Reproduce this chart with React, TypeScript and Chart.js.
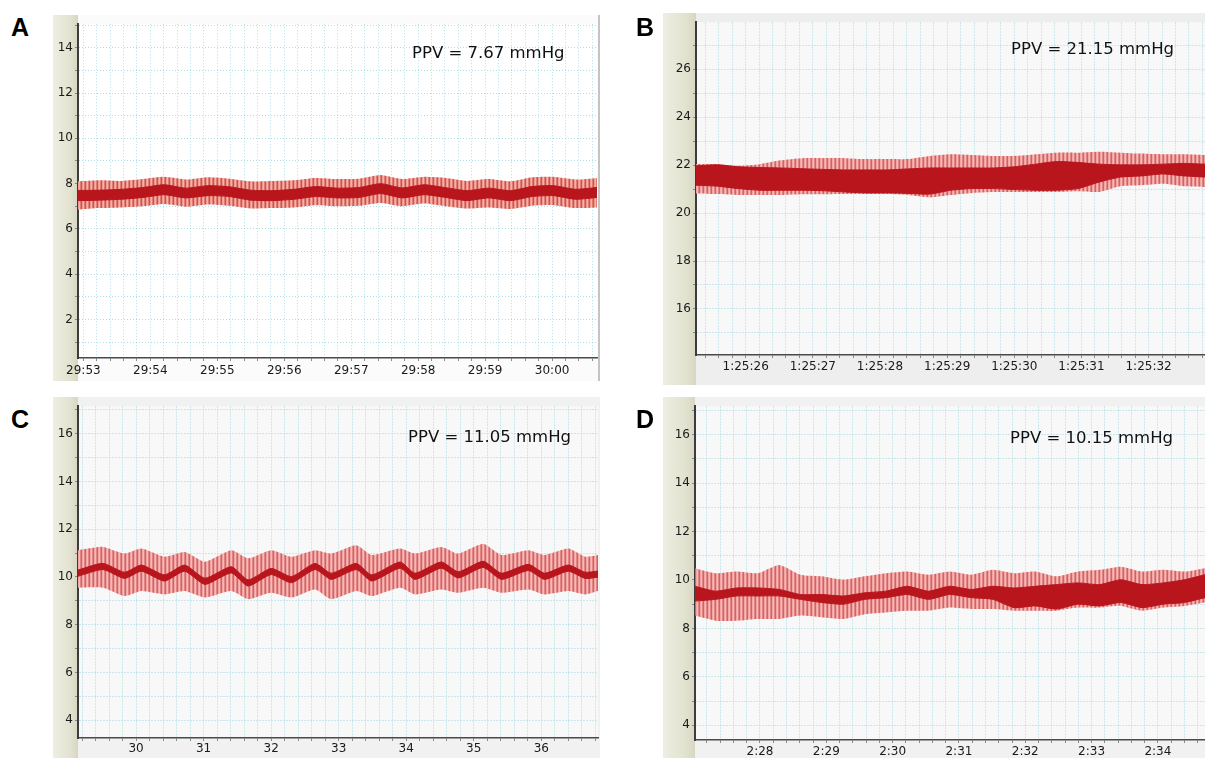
import React, { useEffect, useRef } from "react";
import { Chart, registerables } from "chart.js";
Chart.register(...registerables);

// ---------------- Panel A ----------------
const timeA = [-0.08, 0.24, 0.57, 0.89, 1.21, 1.53, 1.86, 2.18, 2.5, 2.83, 3.15, 3.47, 3.79, 4.12, 4.44, 4.76, 5.09, 5.41, 5.73, 6.05, 6.38, 6.7, 7.02, 7.35, 7.67];
const outerHighA = [8.1, 8.15, 8.12, 8.2, 8.3, 8.18, 8.28, 8.22, 8.1, 8.12, 8.15, 8.25, 8.2, 8.22, 8.38, 8.2, 8.3, 8.25, 8.12, 8.2, 8.1, 8.28, 8.3, 8.18, 8.25];
const innerHighA = [7.7, 7.71, 7.75, 7.83, 7.95, 7.8, 7.91, 7.86, 7.71, 7.69, 7.75, 7.87, 7.8, 7.83, 8.0, 7.81, 7.95, 7.82, 7.69, 7.8, 7.69, 7.87, 7.91, 7.75, 7.83];
const innerLowA = [7.25, 7.27, 7.31, 7.39, 7.51, 7.37, 7.47, 7.43, 7.27, 7.25, 7.31, 7.43, 7.37, 7.39, 7.56, 7.37, 7.51, 7.39, 7.25, 7.37, 7.25, 7.43, 7.47, 7.31, 7.39];
const outerLowA = [6.85, 6.92, 6.95, 7.0, 7.1, 6.98, 7.08, 7.02, 6.9, 6.92, 6.95, 7.05, 7.0, 7.02, 7.15, 7.0, 7.12, 7.0, 6.9, 6.95, 6.88, 7.02, 7.05, 6.92, 6.95];
const yLabelValuesA = [2, 4, 6, 8, 10, 12, 14];
const xLabelValuesA = [0, 1, 2, 3, 4, 5, 6, 7];
const xLabelsA = ["29:53", "29:54", "29:55", "29:56", "29:57", "29:58", "29:59", "30:00"];
const ppvA = "PPV = 7.67 mmHg";

// ---------------- Panel B ----------------
const timeB = [-0.74, -0.42, -0.11, 0.21, 0.52, 0.84, 1.16, 1.47, 1.79, 2.1, 2.42, 2.74, 3.05, 3.37, 3.68, 4.0, 4.32, 4.63, 4.95, 5.26, 5.58, 5.9, 6.21, 6.53, 6.84];
const outerHighB = [22.04, 22.04, 21.97, 22.04, 22.2, 22.29, 22.29, 22.29, 22.25, 22.25, 22.25, 22.38, 22.45, 22.42, 22.38, 22.38, 22.45, 22.52, 22.52, 22.56, 22.52, 22.48, 22.45, 22.45, 22.42];
const innerHighB = [21.97, 22.01, 21.93, 21.9, 21.88, 21.85, 21.82, 21.8, 21.8, 21.8, 21.84, 21.88, 21.88, 21.88, 21.88, 21.93, 22.04, 22.15, 22.11, 22.04, 22.01, 22.01, 22.04, 22.07, 22.04];
const innerLowB = [21.16, 21.12, 21.02, 20.95, 20.95, 20.95, 20.93, 20.88, 20.84, 20.84, 20.82, 20.79, 20.95, 21.02, 21.02, 20.98, 20.95, 20.95, 21.02, 21.29, 21.5, 21.55, 21.63, 21.55, 21.5];
const outerLowB = [20.82, 20.79, 20.75, 20.75, 20.75, 20.78, 20.78, 20.79, 20.79, 20.79, 20.75, 20.65, 20.75, 20.84, 20.88, 20.88, 20.88, 20.88, 20.91, 20.88, 21.12, 21.16, 21.22, 21.12, 21.09];
const yLabelValuesB = [16, 18, 20, 22, 24, 26];
const xLabelValuesB = [0, 1, 2, 3, 4, 5, 6];
const xLabelsB = ["1:25:26", "1:25:27", "1:25:28", "1:25:29", "1:25:30", "1:25:31", "1:25:32"];
const ppvB = "PPV = 21.15 mmHg";

// ---------------- Panel C ----------------
const timeC = [29.14, 29.51, 29.83, 30.08, 30.42, 30.72, 31.02, 31.41, 31.66, 32.0, 32.3, 32.65, 32.89, 33.26, 33.49, 33.91, 34.13, 34.52, 34.77, 35.14, 35.41, 35.81, 36.05, 36.4, 36.65, 36.84];
const outerHighC = [11.12, 11.26, 10.98, 11.19, 10.85, 11.05, 10.64, 11.12, 10.78, 11.12, 10.85, 11.12, 10.98, 11.33, 10.92, 11.19, 10.98, 11.26, 10.98, 11.39, 10.92, 11.12, 10.92, 11.19, 10.85, 10.92];
const innerHighC = [10.29, 10.57, 10.2, 10.5, 10.09, 10.5, 9.95, 10.43, 9.88, 10.36, 10.02, 10.57, 10.16, 10.57, 10.09, 10.63, 10.16, 10.63, 10.22, 10.66, 10.16, 10.53, 10.16, 10.5, 10.2, 10.25];
const innerLowC = [10.03, 10.31, 9.94, 10.24, 9.83, 10.24, 9.69, 10.17, 9.62, 10.1, 9.76, 10.31, 9.9, 10.31, 9.83, 10.37, 9.9, 10.37, 9.96, 10.4, 9.9, 10.27, 9.9, 10.24, 9.94, 9.99];
const outerLowC = [9.55, 9.55, 9.2, 9.41, 9.27, 9.41, 9.14, 9.41, 9.07, 9.34, 9.14, 9.48, 9.07, 9.41, 9.2, 9.55, 9.27, 9.48, 9.34, 9.55, 9.34, 9.48, 9.27, 9.41, 9.27, 9.41];
const yLabelValuesC = [4, 6, 8, 10, 12, 14, 16];
const xLabelValuesC = [30, 31, 32, 33, 34, 35, 36];
const xLabelsC = ["30", "31", "32", "33", "34", "35", "36"];
const ppvC = "PPV = 11.05 mmHg";

// ---------------- Panel D ----------------
const timeD = [-0.98, -0.67, -0.35, -0.03, 0.29, 0.61, 0.93, 1.26, 1.58, 1.9, 2.22, 2.54, 2.86, 3.19, 3.51, 3.83, 4.15, 4.47, 4.79, 5.12, 5.44, 5.76, 6.08, 6.4, 6.71];
const outerHighD = [10.49, 10.28, 10.35, 10.28, 10.62, 10.22, 10.15, 10.01, 10.15, 10.28, 10.35, 10.22, 10.35, 10.22, 10.42, 10.28, 10.35, 10.15, 10.35, 10.42, 10.55, 10.35, 10.42, 10.35, 10.49];
const innerHighD = [9.74, 9.54, 9.67, 9.67, 9.61, 9.4, 9.4, 9.34, 9.47, 9.54, 9.74, 9.54, 9.74, 9.61, 9.74, 9.67, 9.74, 9.81, 9.88, 9.81, 10.01, 9.81, 9.88, 10.01, 10.22];
const innerLowD = [9.13, 9.2, 9.34, 9.34, 9.34, 9.2, 9.07, 9.0, 9.2, 9.27, 9.4, 9.2, 9.4, 9.27, 9.2, 8.86, 8.93, 8.8, 9.0, 8.93, 9.07, 8.86, 9.0, 9.07, 9.27];
const outerLowD = [8.53, 8.32, 8.32, 8.39, 8.39, 8.53, 8.46, 8.39, 8.59, 8.66, 8.73, 8.73, 8.86, 8.8, 8.8, 8.73, 8.73, 8.73, 8.86, 8.86, 8.93, 8.73, 8.86, 8.93, 9.07];
const yLabelValuesD = [4, 6, 8, 10, 12, 14, 16];
const xLabelValuesD = [0, 1, 2, 3, 4, 5, 6];
const xLabelsD = ["2:28", "2:29", "2:30", "2:31", "2:32", "2:33", "2:34"];
const ppvD = "PPV = 10.15 mmHg";

type Panel = {
  letter: string;
  ppv: string;
  times: number[];
  oh: number[];
  ih: number[];
  il: number[];
  ol: number[];
  yLabelValues: number[];
  xLabelValues: number[];
  xLabels: string[];
  xMin: number;
  xMax: number;
  yMin: number;
  yMax: number;
  box: { left: number; top: number; width: number; height: number };
  yAxisW: number;
  xAxisH: number;
  padTop: number;
  padRight: number;
  xPad: number;
  plotBg: string;
  outerBg: string;
  rightBorder: boolean;
  stripes: string[];
  gridDash: number[];
  gridColor: string;
  letterPos: { left: number; top: number };
  ppvPos: { left: number; top: number };
};

const panels: Panel[] = [
  {
    letter: "A", ppv: ppvA, times: timeA, oh: outerHighA, ih: innerHighA, il: innerLowA, ol: outerLowA,
    yLabelValues: yLabelValuesA, xLabelValues: xLabelValuesA, xLabels: xLabelsA,
    xMin: -0.08, xMax: 7.67, yMin: 0.3, yMax: 15.04,
    box: { left: 53, top: 15, width: 547, height: 366 }, yAxisW: 25, xAxisH: 23, padTop: 4, padRight: 3, xPad: 3,
    plotBg: "#ffffff", outerBg: "#fbfbfb", rightBorder: true,
    stripes: ["#d4504f", "#ea9a92", "#f1b3ac", "#e27a70"], gridDash: [1, 2], gridColor: "rgba(110,195,215,0.55)",
    letterPos: { left: 11, top: 15 }, ppvPos: { left: 412, top: 45 },
  },
  {
    letter: "B", ppv: ppvB, times: timeB, oh: outerHighB, ih: innerHighB, il: innerLowB, ol: outerLowB,
    yLabelValues: yLabelValuesB, xLabelValues: xLabelValuesB, xLabels: xLabelsB,
    xMin: -0.74, xMax: 6.84, yMin: 14.08, yMax: 27.96,
    box: { left: 663, top: 13, width: 542, height: 372 }, yAxisW: 33, xAxisH: 30, padTop: 2, padRight: 0, xPad: 2,
    plotBg: "#f8f8f8", outerBg: "#eeeeee", rightBorder: false,
    stripes: ["#d9605f", "#eda5a5", "#f4baba", "#e48382"], gridDash: [2, 1], gridColor: "rgba(140,208,222,0.42)",
    letterPos: { left: 636, top: 15 }, ppvPos: { left: 1011, top: 41 },
  },
  {
    letter: "C", ppv: ppvC, times: timeC, oh: outerHighC, ih: innerHighC, il: innerLowC, ol: outerLowC,
    yLabelValues: yLabelValuesC, xLabelValues: xLabelValuesC, xLabels: xLabelsC,
    xMin: 29.14, xMax: 36.84, yMin: 3.26, yMax: 17.15,
    box: { left: 53, top: 397, width: 547, height: 361 }, yAxisW: 25, xAxisH: 20, padTop: 3, padRight: 2, xPad: 1,
    plotBg: "#f8f8f8", outerBg: "#f1f1f1", rightBorder: false,
    stripes: ["#d9605f", "#eda5a5", "#f4baba", "#e48382"], gridDash: [2, 1], gridColor: "rgba(140,208,222,0.42)",
    letterPos: { left: 11, top: 407 }, ppvPos: { left: 408, top: 429 },
  },
  {
    letter: "D", ppv: ppvD, times: timeD, oh: outerHighD, ih: innerHighD, il: innerLowD, ol: outerLowD,
    yLabelValues: yLabelValuesD, xLabelValues: xLabelValuesD, xLabels: xLabelsD,
    xMin: -0.98, xMax: 6.71, yMin: 3.39, yMax: 17.18,
    box: { left: 663, top: 397, width: 542, height: 361 }, yAxisW: 32, xAxisH: 18, padTop: 3, padRight: 0, xPad: 2,
    plotBg: "#f8f8f8", outerBg: "#f1f1f1", rightBorder: false,
    stripes: ["#d9605f", "#eda5a5", "#f4baba", "#e48382"], gridDash: [2, 1], gridColor: "rgba(140,208,222,0.42)",
    letterPos: { left: 636, top: 407 }, ppvPos: { left: 1010, top: 430 },
  },
];

const panelBgPlugin = {
  id: "panelBg",
  beforeDraw(chart: any, _args: any, o: any) {
    const { ctx, chartArea: ca, width, height } = chart;
    const ys = chart.scales.y;
    ctx.save();
    ctx.fillStyle = o.outer;
    ctx.fillRect(0, 0, width, height);
    const g = ctx.createLinearGradient(0, 0, ys.right, 0);
    g.addColorStop(0, "#eeeee2");
    g.addColorStop(0.7, "#e2e2d0");
    g.addColorStop(1, "#d6d6c2");
    ctx.fillStyle = g;
    ctx.fillRect(0, 0, ys.right, height);
    ctx.fillStyle = o.plot;
    ctx.fillRect(ca.left, ca.top, ca.right - ca.left, ca.bottom - ca.top);
    ctx.restore();
  },
  afterDraw(chart: any, _args: any, o: any) {
    if (!o.rightBorder) return;
    const { ctx, width, height } = chart;
    ctx.save();
    ctx.strokeStyle = "#c4c4c4";
    ctx.lineWidth = 2;
    ctx.beginPath();
    ctx.moveTo(width - 1, 0);
    ctx.lineTo(width - 1, height);
    ctx.stroke();
    ctx.restore();
  },
};

function makePattern(ctx: CanvasRenderingContext2D, cols: string[]) {
  const c = document.createElement("canvas");
  c.width = cols.length;
  c.height = 1;
  const g = c.getContext("2d")!;
  cols.forEach((col, i) => {
    g.fillStyle = col;
    g.fillRect(i, 0, 1, 1);
  });
  return ctx.createPattern(c, "repeat");
}

function PanelChart({ p }: { p: Panel }) {
  const ref = useRef<HTMLCanvasElement>(null);
  useEffect(() => {
    const canvas = ref.current!;
    const ctx = canvas.getContext("2d")!;
    const pattern = makePattern(ctx, p.stripes);
    const pts = (arr: number[]) => arr.map((y, i) => ({ x: p.times[i], y }));
    const font = { family: '"DejaVu Sans", sans-serif', size: 12 };
    const chart = new Chart(canvas, {
      type: "line",
      data: {
        datasets: [
          { data: pts(p.ih), fill: "+1", backgroundColor: "#b8151d", borderColor: "#b8151d", borderWidth: 1, pointRadius: 0, tension: 0.2 },
          { data: pts(p.il), fill: false, borderColor: "#b8151d", borderWidth: 1, pointRadius: 0, tension: 0.2 },
          { data: pts(p.oh), fill: "+1", backgroundColor: pattern as any, borderColor: "rgba(0,0,0,0)", borderWidth: 1, pointRadius: 0, tension: 0.2 },
          { data: pts(p.ol), fill: false, borderColor: "rgba(0,0,0,0)", borderWidth: 1, pointRadius: 0, tension: 0.2 },
        ],
      },
      options: {
        animation: false,
        responsive: false,
        maintainAspectRatio: false,
        events: [],
        layout: { padding: { top: p.padTop, right: p.padRight, left: 0, bottom: 0 } },
        plugins: {
          legend: { display: false },
          tooltip: { enabled: false },
          panelBg: { outer: p.outerBg, plot: p.plotBg, rightBorder: p.rightBorder },
        } as any,
        scales: {
          x: {
            type: "linear",
            min: p.xMin,
            max: p.xMax,
            afterBuildTicks: (s: any) => {
              const t: any[] = [];
              for (let k = Math.ceil(p.xMin * 5); k <= Math.floor(p.xMax * 5); k++) t.push({ value: k / 5 });
              s.ticks = t;
            },
            afterFit: (s: any) => {
              s.height = p.xAxisH;
            },
            ticks: {
              autoSkip: false,
              maxRotation: 0,
              padding: p.xPad,
              color: "#1a1a1a",
              font,
              callback: (v: any) => {
                const i = p.xLabelValues.findIndex((lv) => Math.abs(lv - Number(v)) < 1e-6);
                return i >= 0 ? p.xLabels[i] : "";
              },
            },
            grid: { color: p.gridColor, lineWidth: 1, tickLength: 3, tickColor: "#888", tickWidth: 1 },
            border: { display: true, color: "#4a4a4a", width: 1.5, dash: p.gridDash },
          },
          y: {
            type: "linear",
            min: p.yMin,
            max: p.yMax,
            afterBuildTicks: (s: any) => {
              const t: any[] = [];
              for (let k = Math.ceil(p.yMin); k <= Math.floor(p.yMax); k++) t.push({ value: k });
              s.ticks = t;
            },
            afterFit: (s: any) => {
              s.width = p.yAxisW;
            },
            ticks: {
              autoSkip: false,
              padding: 2,
              color: "#1a1a1a",
              font,
              callback: (v: any) => (p.yLabelValues.includes(Number(v)) ? String(v) : ""),
            },
            grid: { color: p.gridColor, lineWidth: 1, tickLength: 3, tickColor: "#888", tickWidth: 1 },
            border: { display: true, color: "#3c3c3c", width: 2, dash: p.gridDash },
          },
        },
      } as any,
      plugins: [panelBgPlugin],
    });
    return () => chart.destroy();
  }, [p]);
  return (
    <canvas
      ref={ref}
      width={p.box.width}
      height={p.box.height}
      style={{ position: "absolute", left: p.box.left, top: p.box.top, width: p.box.width, height: p.box.height }}
    />
  );
}

export default function App() {
  return (
    <div style={{ position: "fixed", left: 0, top: 0, width: 1205, height: 758, background: "#ffffff", overflow: "hidden" }}>
      {panels.map((p) => (
        <React.Fragment key={p.letter}>
          <PanelChart p={p} />
          <div
            style={{
              position: "absolute",
              left: p.letterPos.left,
              top: p.letterPos.top,
              font: 'bold 25px "Liberation Sans", Arial, sans-serif',
              lineHeight: "25px",
              color: "#000",
            }}
          >
            {p.letter}
          </div>
          <div
            style={{
              position: "absolute",
              left: p.ppvPos.left,
              top: p.ppvPos.top,
              font: '16.5px "DejaVu Sans", sans-serif',
              lineHeight: "16.5px",
              color: "#111",
              whiteSpace: "nowrap",
            }}
          >
            {p.ppv}
          </div>
        </React.Fragment>
      ))}
    </div>
  );
}
